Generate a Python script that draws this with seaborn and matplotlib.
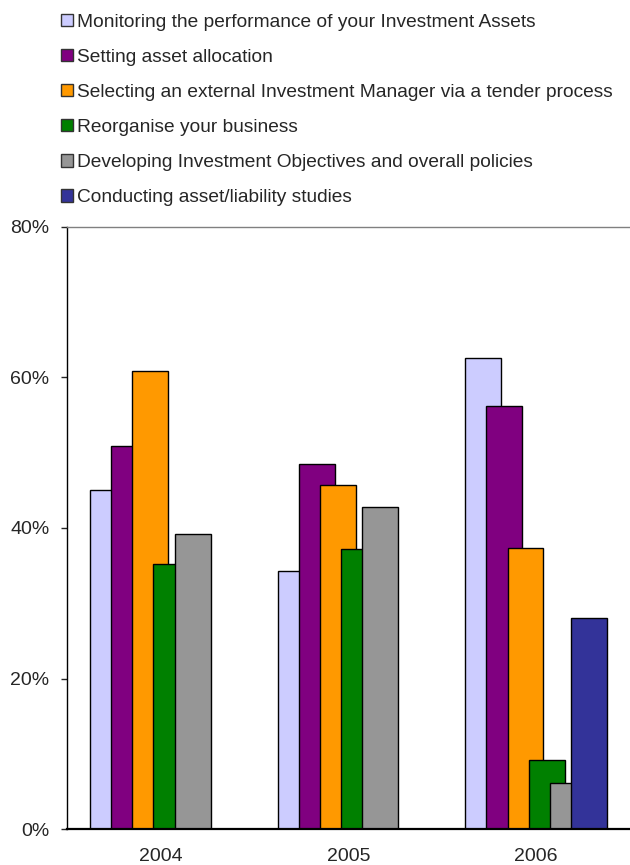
import numpy as np
import pandas as pd
import matplotlib
matplotlib.use("Agg")
import matplotlib.pyplot as plt
from matplotlib.patches import Patch
from matplotlib.ticker import PercentFormatter
import seaborn as sns

# --------- Dades ---------
years = ["2004", "2005", "2006"]
series_names = [
    "Monitoring the performance of your Investment Assets",
    "Setting asset allocation",
    "Selecting an external Investment Manager via a tender process",
    "Reorganise your business",
    "Developing Investment Objectives and overall policies",
    "Conducting asset/liability studies",
]
monitoring = [45.1, 34.3, 62.6]
asset_allocation = [50.9, 48.5, 56.2]
selecting_manager = [60.8, 45.7, 37.4]
reorganise = [35.2, 37.2, 9.2]
objectives = [39.2, 42.8, 6.2]
alm_studies = [np.nan, np.nan, 28.1]

colors = ["#CCCCFF", "#800080", "#FF9900", "#008000", "#969696", "#333399"]
all_values = [monitoring, asset_allocation, selecting_manager,
              reorganise, objectives, alm_studies]

sns.set_style("white")
plt.rcParams["font.family"] = ["Liberation Sans", "DejaVu Sans"]

fig = plt.figure(figsize=(6.3, 8.65), dpi=100)
ax = fig.add_axes([0.1063, 0.0413, 0.8937, 0.6966])

# barres encavalcades (estil Excel)
step = 0.113
bar_w = 0.191
for i, (vals, col) in enumerate(zip(all_values, colors)):
    df = pd.DataFrame({"x": np.arange(len(years)) + (i - 2.5) * step, "y": vals}).dropna()
    sns.barplot(data=df, x="x", y="y", native_scale=True, width=bar_w,
                color=col, saturation=1, edgecolor="black", linewidth=1.0,
                errorbar=None, ax=ax)

ax.set_xlim(-0.5, 2.5)
ax.set_ylim(0, 80)
ax.set_xticks(range(len(years)))
ax.set_xticklabels(years)
ax.set_yticks([0, 20, 40, 60, 80])
ax.yaxis.set_major_formatter(PercentFormatter(decimals=0))
ax.set_xlabel("")
ax.set_ylabel("")
ax.tick_params(axis="x", length=0, pad=13.5, labelsize=14)
ax.tick_params(axis="y", length=4.5, width=1, pad=8, labelsize=14, left=True)

ax.spines["right"].set_visible(False)
ax.spines["top"].set_color("#808080")
ax.spines["top"].set_linewidth(1.0)
ax.spines["left"].set_color("black")
ax.spines["left"].set_linewidth(1.0)
ax.spines["bottom"].set_color("black")
ax.spines["bottom"].set_linewidth(1.6)

handles = [Patch(facecolor=c, edgecolor="#333333", linewidth=1.0) for c in colors]
fig.legend(handles, series_names, loc="upper left", bbox_to_anchor=(0.0968, 0.984),
           frameon=False, fontsize=13.8, handlelength=0.63, handleheight=0.63,
           handletextpad=0.2, labelspacing=0.94, borderpad=0, borderaxespad=0)

fig.savefig("out.png", dpi=100)
